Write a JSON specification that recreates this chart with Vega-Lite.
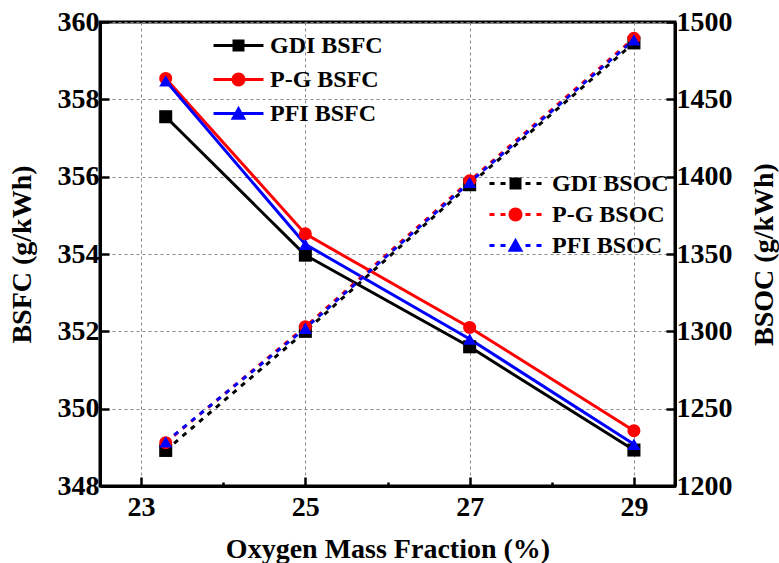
{
  "$schema": "https://vega.github.io/schema/vega-lite/v6.json",
  "width": 575,
  "height": 464,
  "autosize": {"type": "none"},
  "padding": {"left": 100, "top": 22, "right": 104, "bottom": 77},
  "background": "white",
  "config": {
    "view": {"stroke": "black", "strokeWidth": 3},
    "font": "Liberation Serif",
    "axis": {
      "domainColor": "black", "domainWidth": 3,
      "tickColor": "black", "tickWidth": 2.5,
      "labelFont": "Liberation Serif", "labelFontWeight": "bold", "labelFontSize": 28, "labelColor": "black",
      "titleFont": "Liberation Serif", "titleFontWeight": "bold", "titleFontSize": 28, "titleColor": "black",
      "gridColor": "#8a8a8a", "gridDash": [3, 3], "gridWidth": 1
    },
    "legend": {"labelFont": "Liberation Serif", "labelFontWeight": "bold", "labelFontSize": 24, "labelColor": "black", "symbolStrokeWidth": 0}
  },
  "datasets": {
    "bsfc": [
      {"x": 23.3, "series": "GDI BSFC", "v": 357.55},
      {"x": 25, "series": "GDI BSFC", "v": 353.97},
      {"x": 27, "series": "GDI BSFC", "v": 351.6},
      {"x": 29, "series": "GDI BSFC", "v": 348.93},
      {"x": 23.3, "series": "P-G BSFC", "v": 358.54},
      {"x": 25, "series": "P-G BSFC", "v": 354.52},
      {"x": 27, "series": "P-G BSFC", "v": 352.1},
      {"x": 29, "series": "P-G BSFC", "v": 349.43},
      {"x": 23.3, "series": "PFI BSFC", "v": 358.48},
      {"x": 25, "series": "PFI BSFC", "v": 354.25},
      {"x": 27, "series": "PFI BSFC", "v": 351.8},
      {"x": 29, "series": "PFI BSFC", "v": 349.08}
    ],
    "bsoc": [
      {"x": 23.3, "series": "GDI BSOC", "v": 1223},
      {"x": 25, "series": "GDI BSOC", "v": 1300},
      {"x": 27, "series": "GDI BSOC", "v": 1394.8},
      {"x": 29, "series": "GDI BSOC", "v": 1486.5},
      {"x": 23.3, "series": "P-G BSOC", "v": 1228},
      {"x": 25, "series": "P-G BSOC", "v": 1303},
      {"x": 27, "series": "P-G BSOC", "v": 1397.3},
      {"x": 29, "series": "P-G BSOC", "v": 1489.5},
      {"x": 23.3, "series": "PFI BSOC", "v": 1228.5},
      {"x": 25, "series": "PFI BSOC", "v": 1302},
      {"x": 27, "series": "PFI BSOC", "v": 1396.3},
      {"x": 29, "series": "PFI BSOC", "v": 1488.5}
    ]
  },
  "layer": [
    {
      "data": {"name": "bsfc"},
      "layer": [
        {
          "mark": {"type": "line", "strokeWidth": 3},
          "encoding": {
            "x": {
              "field": "x", "type": "quantitative",
              "scale": {"domain": [22.5, 29.5], "nice": false, "zero": false},
              "axis": {
                "title": "Oxygen Mass Fraction (%)",
                "format": "d",
                "values": [23, 24, 25, 26, 27, 28, 29],
                "labelExpr": "datum.value % 2 == 1 ? datum.label : ''",
                "tickSize": {"condition": {"test": "datum.value % 2 == 1", "value": -9}, "value": -4},
                "gridOpacity": {"condition": {"test": "datum.value % 2 == 1", "value": 1}, "value": 0},
                "grid": true,
                "labelPadding": 16,
                "titlePadding": 14
              }
            },
            "y": {
              "field": "v", "type": "quantitative",
              "scale": {"domain": [348, 360], "nice": false, "zero": false},
              "axis": {
                "orient": "left",
                "title": "BSFC (g/kWh)",
                "format": "d",
                "values": [348, 349, 350, 351, 352, 353, 354, 355, 356, 357, 358, 359, 360],
                "labelExpr": "datum.value % 2 == 0 ? datum.label : ''",
                "tickSize": {"condition": {"test": "datum.value % 2 == 0", "value": -9}, "value": -4},
                "gridOpacity": {"condition": {"test": "datum.value % 2 == 0", "value": 1}, "value": 0},
                "grid": true,
                "labelPadding": 10,
                "titlePadding": 21
              }
            },
            "stroke": {
              "field": "series", "type": "nominal",
              "scale": {"domain": ["GDI BSFC", "P-G BSFC", "PFI BSFC", " "], "range": ["#000000", "#ff0000", "#0000ff", "#000000"]},
              "legend": null
            }
          }
        },
        {
          "mark": {"type": "point", "filled": true, "opacity": 1, "size": 170},
          "encoding": {
            "x": {"field": "x", "type": "quantitative"},
            "y": {"field": "v", "type": "quantitative"},
            "fill": {
              "field": "series", "type": "nominal",
              "scale": {"domain": ["GDI BSFC", "P-G BSFC", "PFI BSFC", " "], "range": ["#000000", "#ff0000", "#0000ff", "#000000"]},
              "legend": null
            },
            "shape": {
              "field": "series", "type": "nominal",
              "scale": {"domain": ["GDI BSFC", "P-G BSFC", "PFI BSFC", " "], "range": ["square", "circle", "triangle-up", "square"]},
              "legend": null
            }
          }
        },
        {
          "transform": [{"filter": "datum.x > 100"}],
          "mark": {"type": "point", "filled": true, "opacity": 1, "size": 170},
          "encoding": {
            "x": {"field": "x", "type": "quantitative"},
            "y": {"field": "v", "type": "quantitative"},
            "fill": {
              "field": "series", "type": "nominal",
              "scale": {"domain": ["GDI BSFC", "P-G BSFC", "PFI BSFC"], "range": ["#000000", "#ff0000", "#0000ff"]},
              "legend": {
                "orient": "none", "legendX": 126.5, "legendY": 11.5,
                "title": null, "symbolSize": 170, "symbolStrokeWidth": 0, "labelOffset": 19.5, "rowPadding": 10, "padding": 0
              }
            },
            "shape": {
              "field": "series", "type": "nominal",
              "scale": {"domain": ["GDI BSFC", "P-G BSFC", "PFI BSFC"], "range": [
                "M-3.83,-0.23L3.83,-0.23L3.83,0.23L-3.83,0.23ZM-0.92,-0.92L0.92,-0.92L0.92,0.92L-0.92,0.92Z",
                "M-3.83,-0.23L3.83,-0.23L3.83,0.23L-3.83,0.23ZM-1.07,0A1.07,1.07 0 1,1 1.07,0A1.07,1.07 0 1,1 -1.07,0Z",
                "M-3.83,-0.23L3.83,-0.23L3.83,0.23L-3.83,0.23ZM0,-1.2L1.2,0.95L-1.2,0.95Z"
              ]},
              "legend": {
                "orient": "none", "legendX": 126.5, "legendY": 11.5,
                "title": null, "symbolSize": 170, "symbolStrokeWidth": 0, "labelOffset": 19.5, "rowPadding": 10, "padding": 0
              }
            }
          }
        }
      ],
      "resolve": {"scale": {"shape": "independent", "fill": "independent"}}
    },
    {
      "data": {"name": "bsoc"},
      "layer": [
        {
          "mark": {"type": "line", "strokeWidth": 3, "strokeDash": [5, 6]},
          "encoding": {
            "x": {"field": "x", "type": "quantitative"},
            "y": {
              "field": "v", "type": "quantitative",
              "scale": {"domain": [1200, 1500], "nice": false, "zero": false},
              "axis": {
                "orient": "right",
                "title": "BSOC (g/kWh)",
                "format": "d",
                "titleAngle": 270,
                "titleBaseline": "top",
                "values": [1200, 1225, 1250, 1275, 1300, 1325, 1350, 1375, 1400, 1425, 1450, 1475, 1500],
                "labelExpr": "datum.value % 50 == 0 ? datum.label : ''",
                "tickSize": {"condition": {"test": "datum.value % 50 == 0", "value": -9}, "value": -4},
                "grid": false,
                "labelPadding": 10,
                "titlePadding": 18
              }
            },
            "stroke": {
              "field": "series", "type": "nominal",
              "scale": {"domain": ["GDI BSOC", "P-G BSOC", "PFI BSOC", " "], "range": ["#000000", "#ff0000", "#0000ff", "#000000"]},
              "legend": null
            }
          }
        },
        {
          "mark": {"type": "point", "filled": true, "opacity": 1, "size": 170},
          "encoding": {
            "x": {"field": "x", "type": "quantitative"},
            "y": {"field": "v", "type": "quantitative"},
            "fill": {
              "field": "series", "type": "nominal",
              "scale": {"domain": ["GDI BSOC", "P-G BSOC", "PFI BSOC", " "], "range": ["#000000", "#ff0000", "#0000ff", "#000000"]},
              "legend": null
            },
            "shape": {
              "field": "series", "type": "nominal",
              "scale": {"domain": ["GDI BSOC", "P-G BSOC", "PFI BSOC", " "], "range": ["square", "circle", "triangle-up", "square"]},
              "legend": null
            }
          }
        },
        {
          "transform": [{"filter": "datum.x > 100"}],
          "mark": {"type": "point", "filled": true, "opacity": 1, "size": 170},
          "encoding": {
            "x": {"field": "x", "type": "quantitative"},
            "y": {"field": "v", "type": "quantitative"},
            "fill": {
              "field": "series", "type": "nominal",
              "scale": {"domain": ["GDI BSOC", "P-G BSOC", "PFI BSOC"], "range": ["#000000", "#ff0000", "#0000ff"]},
              "legend": {
                "orient": "none", "legendX": 403.5, "legendY": 149.5,
                "title": null, "symbolSize": 170, "symbolStrokeWidth": 0, "labelOffset": 24.5, "rowPadding": 7, "padding": 0
              }
            },
            "shape": {
              "field": "series", "type": "nominal",
              "scale": {"domain": ["GDI BSOC", "P-G BSOC", "PFI BSOC"], "range": [
                "M-3.99,-0.23L-3.22,-0.23L-3.22,0.23L-3.99,0.23ZM-2.3,-0.23L-1.53,-0.23L-1.53,0.23L-2.3,0.23ZM1.53,-0.23L2.3,-0.23L2.3,0.23L1.53,0.23ZM3.22,-0.23L3.99,-0.23L3.99,0.23L3.22,0.23ZM-0.92,-0.92L0.92,-0.92L0.92,0.92L-0.92,0.92Z",
                "M-3.99,-0.23L-3.22,-0.23L-3.22,0.23L-3.99,0.23ZM-2.3,-0.23L-1.53,-0.23L-1.53,0.23L-2.3,0.23ZM1.53,-0.23L2.3,-0.23L2.3,0.23L1.53,0.23ZM3.22,-0.23L3.99,-0.23L3.99,0.23L3.22,0.23ZM-1.07,0A1.07,1.07 0 1,1 1.07,0A1.07,1.07 0 1,1 -1.07,0Z",
                "M-3.99,-0.23L-3.22,-0.23L-3.22,0.23L-3.99,0.23ZM-2.3,-0.23L-1.53,-0.23L-1.53,0.23L-2.3,0.23ZM1.53,-0.23L2.3,-0.23L2.3,0.23L1.53,0.23ZM3.22,-0.23L3.99,-0.23L3.99,0.23L3.22,0.23ZM0,-1.2L1.2,0.95L-1.2,0.95Z"
              ]},
              "legend": {
                "orient": "none", "legendX": 403.5, "legendY": 149.5,
                "title": null, "symbolSize": 170, "symbolStrokeWidth": 0, "labelOffset": 24.5, "rowPadding": 7, "padding": 0
              }
            }
          }
        }
      ],
      "resolve": {"scale": {"shape": "independent", "fill": "independent"}}
    }
  ],
  "resolve": {"scale": {"y": "independent", "stroke": "independent", "fill": "independent", "shape": "independent"}}
}
